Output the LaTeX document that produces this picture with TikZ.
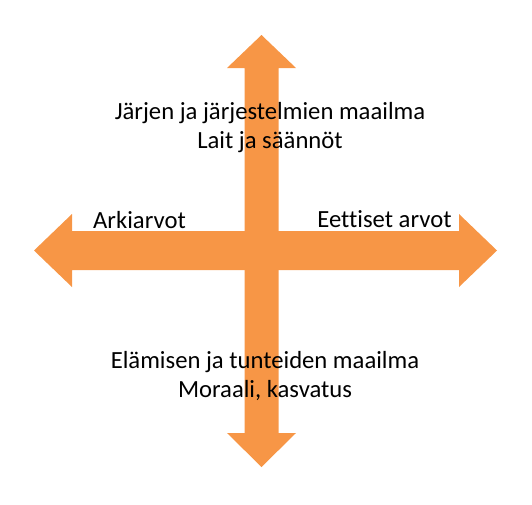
\documentclass[tikz,border=0pt]{standalone}
\usepackage{fontspec}
\setmainfont{Carlito}[Ligatures=NoCommon]
\usepackage{tikz}
\definecolor{arrowfill}{HTML}{F79646}
\tikzset{label text/.style={font=\fontsize{18.5}{21.2}\selectfont, text=black, inner sep=0pt, align=center, anchor=base}}

\begin{document}
\begin{tikzpicture}[x=0.75pt, y=-0.75pt]
			%%%%% START %%%%%
			
			\useasboundingbox (0, 0) rectangle (532, 504);
			
			\draw[fill=arrowfill, draw=none] (34, 250.5) -- (72, 214) -- (72, 231) -- (459, 231) -- (459, 214) -- (497, 250.5)
				-- (459, 287) -- (459, 270) -- (72, 270) -- (72, 287) -- cycle;
			\draw[fill=arrowfill, draw=none] (261.5, 35) -- (296, 68) -- (278.5, 68) -- (278.5, 433) -- (296, 433) -- (261.5, 467)
				-- (227, 433) -- (244.5, 433) -- (244.5, 68) -- (227, 68) -- cycle;
			
			\node[label text] (upper) at (270, 148) {Järjen ja järjestelmien maailma\\Lait ja säännöt};
			\node[label text] (lower) at (265, 397) {Elämisen ja tunteiden maailma\\Moraali, kasvatus};
			
			\node[label text] (left) at (139.5, 228) {Arkiarvot};
			\node[label text, fill=white] (right) at (384.5, 227) {Eettiset arvot};
			
			%%%%% END %%%%%
		\end{tikzpicture}
\end{document}
